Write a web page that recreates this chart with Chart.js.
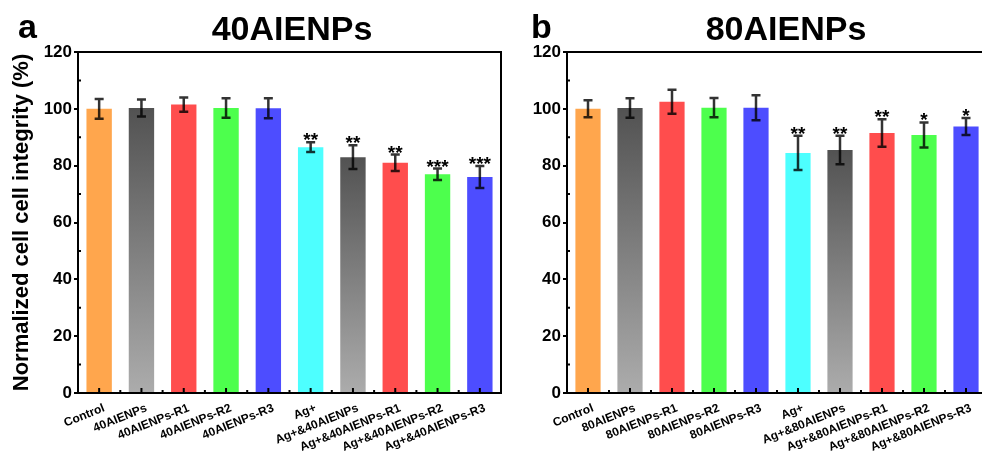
<!DOCTYPE html>
<html>
<head>
<meta charset="utf-8">
<script src="https://cdn.jsdelivr.net/npm/chart.js@4.4.1/dist/chart.umd.min.js"></script>
<style>
  html, body { margin: 0; padding: 0; background: #fff; overflow: hidden; width: 982px; height: 464px; }
  #wrap { position: relative; width: 982px; height: 464px; overflow: hidden; }
  canvas { position: absolute; top: 0; }
  .lbl { position: absolute; font-family: "Liberation Sans", Arial, sans-serif; font-weight: bold; line-height: 1; color: #000; white-space: nowrap; }
  .letter { font-size: 34px; }
  .ptitle { font-size: 34px; width: 300px; text-align: center; }
</style>
</head>
<body>
<div id="wrap">
  <canvas id="chartA" width="510" height="464" style="left:0px"></canvas>
  <canvas id="chartB" width="500" height="464" style="left:505px"></canvas>
  <div class="lbl letter" style="left:18px; top:9px;">a</div>
  <div class="lbl ptitle" style="left:142px; top:11px;">40AIENPs</div>
  <div class="lbl letter" style="left:531px; top:9px;">b</div>
  <div class="lbl ptitle" style="left:636px; top:11px;">80AIENPs</div>
</div>
<script>
// values (mean, error, significance)
const labelsA = ['Control', '40AIENPs', '40AIENPs-R1', '40AIENPs-R2', '40AIENPs-R3', 'Ag+', 'Ag+&40AIENPs', 'Ag+&40AIENPs-R1', 'Ag+&40AIENPs-R2', 'Ag+&40AIENPs-R3'];
const valuesA = [100, 100.3, 101.5, 100.3, 100.2, 86.5, 83, 81, 77, 76];
const errorsA = [3.5, 3, 2.5, 3.4, 3.5, 1.7, 4.2, 2.9, 2, 3.9];
const starsA = ['', '', '', '', '', '**', '**', '**', '***', '***'];

const labelsB = ['Control', '80AIENPs', '80AIENPs-R1', '80AIENPs-R2', '80AIENPs-R3', 'Ag+', 'Ag+&80AIENPs', 'Ag+&80AIENPs-R1', 'Ag+&80AIENPs-R2', 'Ag+&80AIENPs-R3'];
const valuesB = [100, 100.3, 102.5, 100.4, 100.4, 84.5, 85.5, 91.5, 90.8, 93.8];
const errorsB = [3, 3.4, 4.2, 3.4, 4.4, 6, 5, 4.8, 4.4, 3];
const starsB = ['', '', '', '', '', '**', '**', '**', '*', '*'];

const yTicks = [0, 20, 40, 60, 80, 100, 120];

const barColors = ['#ffa64d', 'gray', '#ff4d4d', '#4dff4d', '#4d4dff', '#4dffff', 'gray', '#ff4d4d', '#4dff4d', '#4d4dff'];
const FONT = '"Liberation Sans", Arial, sans-serif';

function barFill(ctx) {
  const c = barColors[ctx.dataIndex];
  if (c !== 'gray') return c;
  const chart = ctx.chart;
  if (!chart.chartArea || !chart.scales.y) return '#777';
  const y = chart.scales.y;
  const v = ctx.dataset.data[ctx.dataIndex];
  const top = y.getPixelForValue(v), base = y.getPixelForValue(0);
  const g = chart.ctx.createLinearGradient(0, top, 0, base);
  g.addColorStop(0, 'rgb(82,82,82)');
  g.addColorStop(1, 'rgb(172,172,172)');
  return g;
}

// frame, inward minor ticks, error bars and asterisks
const decor = {
  id: 'decor',
  afterDatasetsDraw(chart, args, opts) {
    const ctx = chart.ctx, a = chart.chartArea;
    const x = chart.scales.x, y = chart.scales.y;
    const meta = chart.getDatasetMeta(0);
    ctx.save();
    ctx.strokeStyle = '#000';
    ctx.lineWidth = 2;
    ctx.strokeRect(a.left, a.top, a.right - a.left, a.bottom - a.top);
    // x ticks pointing inside
    ctx.beginPath();
    for (let i = 0; i < opts.values.length; i++) {
      const px = x.getPixelForValue(i);
      ctx.moveTo(px, a.bottom); ctx.lineTo(px, a.bottom - 5);
      if (i > 0) {
        const mx = (px + x.getPixelForValue(i - 1)) / 2;
        ctx.moveTo(mx, a.bottom); ctx.lineTo(mx, a.bottom - 3);
      }
    }
    // y minor ticks inside
    for (let v = 10; v < 120; v += 20) {
      const py = y.getPixelForValue(v);
      ctx.moveTo(a.left, py); ctx.lineTo(a.left + 3, py);
    }
    ctx.stroke();

    // error bars
    ctx.strokeStyle = 'rgba(0,0,0,0.8)';
    opts.values.forEach((v, i) => {
      const px = meta.data[i].x;
      const t = y.getPixelForValue(v + opts.errors[i]);
      const b = y.getPixelForValue(v - opts.errors[i]);
      ctx.lineWidth = 2.5;
      ctx.beginPath();
      ctx.moveTo(px, t); ctx.lineTo(px, b);
      ctx.moveTo(px - 4.5, t); ctx.lineTo(px + 4.5, t);
      ctx.moveTo(px - 4.5, b); ctx.lineTo(px + 4.5, b);
      ctx.stroke();
      if (opts.stars[i]) {
        ctx.fillStyle = '#000';
        ctx.font = 'bold 19px ' + FONT;
        ctx.textAlign = 'center';
        ctx.textBaseline = 'alphabetic';
        ctx.fillText(opts.stars[i], px, t + 4);
      }
    });
    ctx.restore();
  }
};

function makeChart(id, labels, values, errors, stars, box) {
  return new Chart(document.getElementById(id), {
    type: 'bar',
    data: {
      labels: labels,
      datasets: [{
        data: values,
        backgroundColor: barFill,
        borderWidth: 0,
        barPercentage: 0.6,
        categoryPercentage: 1
      }]
    },
    options: {
      responsive: false,
      animation: false,
      devicePixelRatio: 1,
      layout: { padding: { top: box.top, right: box.right, bottom: 0, left: 0 } },
      plugins: {
        legend: { display: false },
        tooltip: { enabled: false },
        decor: { values: values, errors: errors, stars: stars }
      },
      scales: {
        x: {
          grid: { display: false },
          border: { display: false },
          ticks: {
            color: '#000',
            font: { family: FONT, size: 12, weight: 'bold' },
            minRotation: 22,
            maxRotation: 22,
            autoSkip: false,
            padding: 0,
            labelOffset: 5
          },
          afterFit(s) { s.height = box.xh; }
        },
        y: {
          min: 0,
          max: 120,
          afterBuildTicks(s) { s.ticks = yTicks.map(v => ({ value: v })); },
          grid: { drawOnChartArea: false, drawTicks: true, tickLength: 4, lineWidth: 2, color: '#000' },
          border: { display: true, width: 2, color: '#000' },
          ticks: {
            color: '#000',
            font: { family: FONT, size: 17, weight: 'bold' },
            padding: 2
          },
          title: {
            display: box.yTitle,
            text: 'Normalized cell cell integrity (%)',
            color: '#000',
            font: { family: FONT, size: 22, weight: 'bold' },
            padding: { top: 9, bottom: 0 }
          },
          afterFit(s) { s.width = box.yw; }
        }
      }
    },
    plugins: [decor]
  });
}

document.addEventListener('DOMContentLoaded', function () {
  makeChart('chartA', labelsA, valuesA, errorsA, starsA, { top: 52, right: 9, xh: 71, yw: 78, yTitle: true });
  makeChart('chartB', labelsB, valuesB, errorsB, starsB, { top: 52, right: 18, xh: 71, yw: 62, yTitle: false });
});
</script>
</body>
</html>
